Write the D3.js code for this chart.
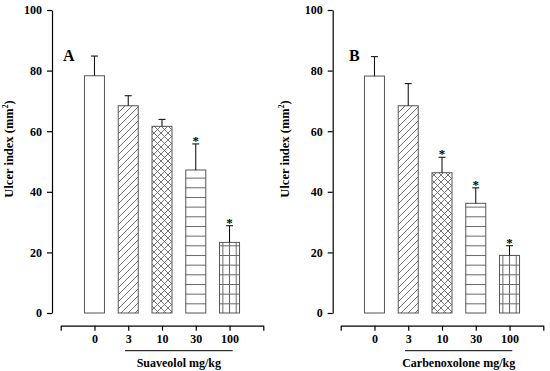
<!DOCTYPE html>
<html>
<head>
<meta charset="utf-8">
<script src="https://cdn.jsdelivr.net/npm/d3@7"></script>
<style>
  html, body { margin: 0; padding: 0; background: #fff; }
  svg { display: block; }
  text { font-family: "Liberation Serif", "Times New Roman", serif; font-weight: bold; fill: #000; }
</style>
</head>
<body>
<div id="chart"></div>
<script>
const doses = ["0", "3", "10", "30", "100"];
const yTicks = [0, 20, 40, 60, 80, 100];

const suaveololMean = [78.3, 68.4, 61.6, 47.2, 23.3];
const suaveololErr = [6.5, 3.3, 2.3, 8.6, 5.5];
const suaveololSig = [false, false, false, true, true];

const carbenoxoloneMean = [78.2, 68.4, 46.3, 36.2, 19.0];
const carbenoxoloneErr = [6.4, 7.3, 5.1, 5.1, 3.2];
const carbenoxoloneSig = [false, false, true, true, true];

const fills = ["none", "url(#hatch)", "url(#cross)", "url(#hlines)", "url(#grid)"];

const width = 550, height = 371;
const yTop = 10, yBottom = 313;
const axisY = 325.7;
const barW = 20;

const svg = d3.select("#chart").append("svg")
	.attr("width", width)
	.attr("height", height);

const y = d3.scaleLinear().domain([0, 100]).range([yBottom, yTop]);

// fill patterns
const defs = svg.append("defs");
const patColor = "#666";

var p = defs.append("pattern").attr("id", "hatch")
	.attr("patternUnits", "userSpaceOnUse").attr("width", 7).attr("height", 7);
p.append("path").attr("d", "M-1,1 l2,-2 M0,7 l7,-7 M6,8 l2,-2")
	.attr("stroke", patColor).attr("stroke-width", 0.9);

p = defs.append("pattern").attr("id", "cross")
	.attr("patternUnits", "userSpaceOnUse").attr("width", 7).attr("height", 7);
p.append("path").attr("d", "M0,7 L7,0 M0,0 L7,7 M-1,1 l2,-2 M6,8 l2,-2 M-1,6 l2,2 M6,-1 l2,2")
	.attr("stroke", patColor).attr("stroke-width", 0.9);

p = defs.append("pattern").attr("id", "hlines")
	.attr("patternUnits", "userSpaceOnUse").attr("width", 10).attr("height", 9.67)
	.attr("y", yBottom);
p.append("path").attr("d", "M0,0.5 H10")
	.attr("stroke", patColor).attr("stroke-width", 1);

function gridPattern(id, x0) {
	var g = defs.append("pattern").attr("id", id)
		.attr("patternUnits", "userSpaceOnUse").attr("width", 6.67).attr("height", 9.67)
		.attr("x", x0).attr("y", yBottom);
	g.append("path").attr("d", "M0,0.5 H6.67 M0.5,0 V9.67")
		.attr("stroke", patColor).attr("stroke-width", 1);
}

const panels = [
	{ name: "A", title: "Suaveolol mg/kg", mean: suaveololMean, err: suaveololErr, sig: suaveololSig,
	  axisX: 52, xStart: 60.7, xEnd: 263.3, labelX: 13, letterX: 63, lineX0: 125, lineX1: 232.7 },
	{ name: "B", title: "Carbenoxolone mg/kg", mean: carbenoxoloneMean, err: carbenoxoloneErr, sig: carbenoxoloneSig,
	  axisX: 332.7, xStart: 340.7, xEnd: 543.3, labelX: 289, letterX: 349, lineX0: 405, lineX1: 512.3 }
];

panels.forEach(function(pn, pi) {
	const domain = ["start"].concat(doses, ["end"]);
	const x = d3.scalePoint().domain(domain).range([pn.xStart, pn.xEnd]);
	const gridId = "grid" + pi;
	gridPattern(gridId, x("100") - barW / 2 + 6.67 * 0.5 - 0.5);

	const g = svg.append("g");

	// y axis
	g.append("g")
		.attr("transform", `translate(${pn.axisX},0)`)
		.call(d3.axisLeft(y).tickValues(yTicks).tickSize(5).tickSizeOuter(0).tickPadding(5))
		.call(a => a.selectAll("text").style("font-size", "12px").style("font-family", null))
		.call(a => a.selectAll("path, line").attr("stroke", "#000").attr("stroke-width", 1.2));

	// x axis
	g.append("g")
		.attr("transform", `translate(0,${axisY})`)
		.call(d3.axisBottom(x).tickSize(5).tickSizeOuter(0).tickPadding(4)
			.tickFormat(d => (d === "start" || d === "end") ? "" : d))
		.call(a => a.selectAll("text").style("font-size", "12px").style("font-family", null))
		.call(a => a.selectAll("path, line").attr("stroke", "#000").attr("stroke-width", 1.2));

	// bars
	g.selectAll("rect.bar")
		.data(doses)
		.join("rect")
		.attr("class", "bar")
		.attr("x", d => x(d) - barW / 2)
		.attr("width", barW)
		.attr("y", (d, i) => y(pn.mean[i]))
		.attr("height", (d, i) => y(0) - y(pn.mean[i]))
		.attr("fill", (d, i) => i === 4 ? `url(#${gridId})` : fills[i])
		.attr("stroke", "#555")
		.attr("stroke-width", 1);

	// error bars
	const eb = g.selectAll("g.err")
		.data(doses)
		.join("g")
		.attr("class", "err");
	eb.append("line")
		.attr("x1", d => x(d)).attr("x2", d => x(d))
		.attr("y1", (d, i) => y(pn.mean[i]))
		.attr("y2", (d, i) => y(pn.mean[i] + pn.err[i]))
		.attr("stroke", "#000").attr("stroke-width", 1);
	eb.append("line")
		.attr("x1", d => x(d) - 3.5).attr("x2", d => x(d) + 3.5)
		.attr("y1", (d, i) => y(pn.mean[i] + pn.err[i]))
		.attr("y2", (d, i) => y(pn.mean[i] + pn.err[i]))
		.attr("stroke", "#000").attr("stroke-width", 1);

	// significance stars
	g.selectAll("text.star")
		.data(doses.filter((d, i) => pn.sig[i]))
		.join("text")
		.attr("class", "star")
		.attr("x", d => x(d))
		.attr("y", d => y(pn.mean[doses.indexOf(d)] + pn.err[doses.indexOf(d)]) + 1)
		.attr("text-anchor", "middle")
		.style("font-size", "13px")
		.text("*");

	// panel letter
	g.append("text")
		.attr("x", pn.letterX)
		.attr("y", 61)
		.style("font-size", "16px")
		.text(pn.name);

	// y label
	const yl = g.append("text")
		.attr("transform", `translate(${pn.labelX},149) rotate(-90)`)
		.attr("text-anchor", "middle")
		.style("font-size", "12.5px");
	yl.append("tspan").text("Ulcer index (mm");
	yl.append("tspan").attr("dy", -5).style("font-size", "7.5px").text("2");
	yl.append("tspan").attr("dy", 5).text(")");

	// group underline and title
	g.append("line")
		.attr("x1", pn.lineX0).attr("x2", pn.lineX1)
		.attr("y1", 350.7).attr("y2", 350.7)
		.attr("stroke", "#000").attr("stroke-width", 1);
	g.append("text")
		.attr("x", (pn.lineX0 + pn.lineX1) / 2)
		.attr("y", 366.5)
		.attr("text-anchor", "middle")
		.style("font-size", "12px")
		.text(pn.title);
});
</script>
</body>
</html>
